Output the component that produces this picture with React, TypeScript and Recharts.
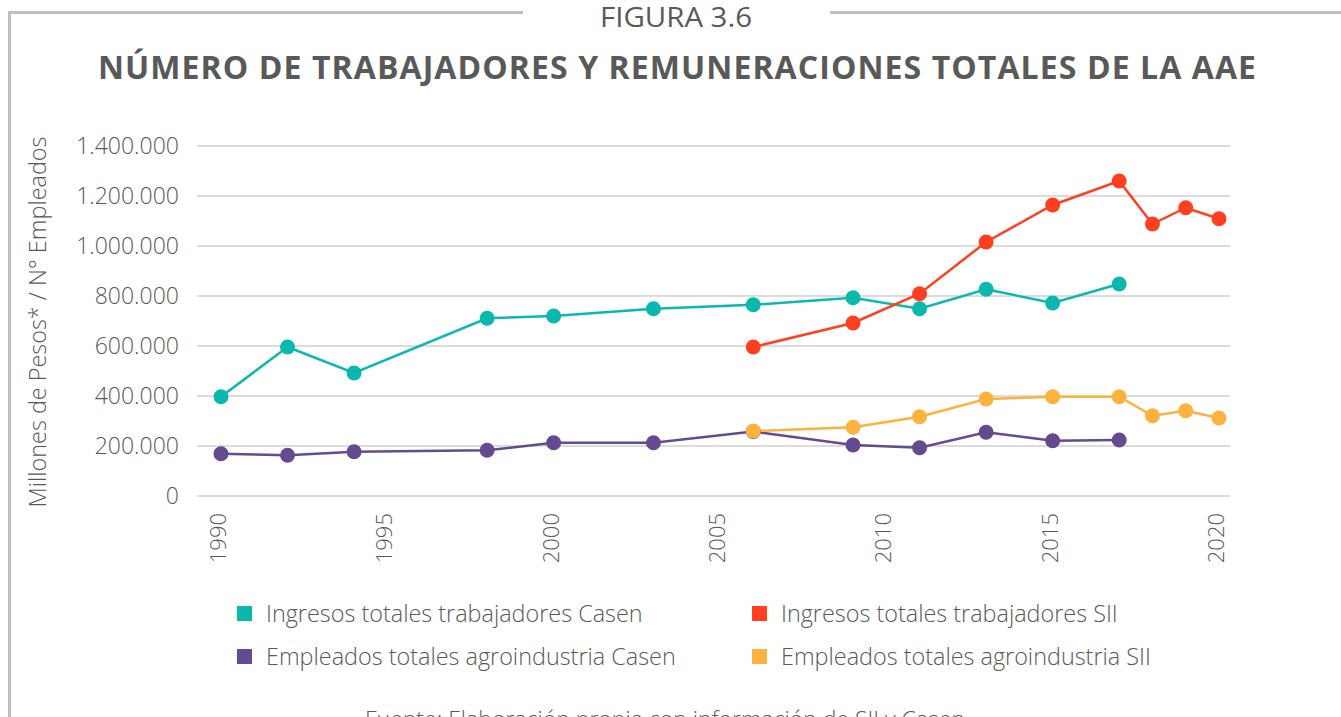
import React from "react";
import { LineChart, Line, XAxis, YAxis, CartesianGrid, Legend } from "recharts";

const yearsCasen = [1990, 1992, 1994, 1998, 2000, 2003, 2006, 2009, 2011, 2013, 2015, 2017];
const ingresosCasen = [397000, 596000, 492000, 711000, 720000, 749000, 765000, 793000, 749000, 827000, 772000, 848000];
const empleadosCasen = [169000, 163000, 177000, 183000, 213000, 213000, 258000, 204000, 193000, 255000, 221000, 224000];

const yearsSII = [2006, 2009, 2011, 2013, 2015, 2017, 2018, 2019, 2020];
const ingresosSII = [596000, 692000, 809000, 1016000, 1164000, 1260000, 1088000, 1153000, 1109000];
const empleadosSII = [260000, 275000, 317000, 388000, 397000, 397000, 321000, 341000, 312000];

const xTicks = [1990, 1995, 2000, 2005, 2010, 2015, 2020];
const yTicks = [0, 200000, 400000, 600000, 800000, 1000000, 1200000, 1400000];

const casenData = yearsCasen.map((year, i) => ({ year, ingresos: ingresosCasen[i], empleados: empleadosCasen[i] }));
const siiData = yearsSII.map((year, i) => ({ year, ingresos: ingresosSII[i], empleados: empleadosSII[i] }));

const SERIES = [
  { key: "ingresos", data: casenData, name: "Ingresos totales trabajadores Casen", color: "#0BB8AD" },
  { key: "ingresos", data: siiData, name: "Ingresos totales trabajadores SII", color: "#FF4020" },
  { key: "empleados", data: casenData, name: "Empleados totales agroindustria Casen", color: "#654A8F" },
  { key: "empleados", data: siiData, name: "Empleados totales agroindustria SII", color: "#FCB33D" },
];

const FONT = "'Open Sans', sans-serif";
const GRAY = "#595959";

const fmt = (v: number) => String(v).replace(/\B(?=(\d{3})+(?!\d))/g, ".");

const XTick = ({ x, y, payload }: any) => {
  const cx = x - 4;
  return (
    <text x={cx} y={y} transform={`rotate(-90, ${cx}, ${y})`} textAnchor="end" dominantBaseline="central"
      fill={GRAY} fontSize={22} fontFamily={FONT} fontWeight={300}>
      {payload.value}
    </text>
  );
};

// legend box is 0 high so it doesn't eat into the plot area
const renderLegend = () => (
  <div style={{ position: "relative", height: 0, fontFamily: FONT, fontWeight: 300 }}>
    {SERIES.map((s, i) => (
      <div key={s.name} style={{
        position: "absolute", left: i % 2 === 0 ? 237 : 752, top: Math.floor(i / 2) * 43,
        display: "flex", alignItems: "center", height: 34, whiteSpace: "nowrap",
      }}>
        <span style={{ width: 15, height: 15, background: s.color, marginRight: 14, display: "inline-block" }} />
        <span style={{ fontSize: 23.4, color: GRAY }}>{s.name}</span>
      </div>
    ))}
  </div>
);

export default function App() {
  return (
    <div style={{ position: "absolute", left: 0, top: 0, width: 1341, height: 717, background: "#fff", overflow: "hidden" }}>
      <LineChart width={1341} height={717} margin={{ top: 146, right: 111, bottom: 161, left: 97 }}>
        <CartesianGrid vertical={false} stroke="#D0D0D0" strokeWidth={1.5} />
        <XAxis type="number" dataKey="year" domain={[1989.279, 2020.331]} ticks={xTicks} allowDataOverflow
          height={60} axisLine={false} tickLine={false} tickSize={0} tickMargin={17} tick={<XTick />} interval={0} />
        <YAxis type="number" domain={[0, 1400000]} ticks={yTicks} width={100} axisLine={false} tickLine={false}
          tickSize={0} tickMargin={18} tickFormatter={fmt} interval={0}
          tick={{ fill: GRAY, fontSize: 23, fontFamily: FONT, fontWeight: 300 }} />
        {SERIES.map((s) => (
          <Line key={s.name} data={s.data} dataKey={s.key} name={s.name} type="linear" stroke={s.color}
            strokeWidth={2.5} dot={{ r: 7.5, fill: s.color, stroke: s.color, strokeWidth: 0 }}
            activeDot={false} isAnimationActive={false} />
        ))}
        <Legend content={renderLegend} wrapperStyle={{ left: 0, top: 596, width: 1341, height: 0 }} />
      </LineChart>
      <svg width={1341} height={717} style={{ position: "absolute", left: 0, top: 0, pointerEvents: "none" }}>
        <line x1={8} y1={12.5} x2={523} y2={12.5} stroke="#C0C0C0" strokeWidth={3} />
        <line x1={830} y1={12.5} x2={1341} y2={12.5} stroke="#C0C0C0" strokeWidth={3} />
        <line x1={9.5} y1={11} x2={9.5} y2={717} stroke="#C0C0C0" strokeWidth={3} />
        <text x={676} y={27} textAnchor="middle" fill={GRAY} fontSize={28} fontFamily={FONT} fontWeight={400}
          textLength={152} lengthAdjust="spacingAndGlyphs">FIGURA 3.6</text>
        <text x={677} y={79} textAnchor="middle" fill={GRAY} fontSize={32} fontFamily={FONT} fontWeight={700}
          textLength={1158} lengthAdjust="spacing">NÚMERO DE TRABAJADORES Y REMUNERACIONES TOTALES DE LA AAE</text>
        <text x={37} y={322} transform="rotate(-90, 37, 322)" textAnchor="middle" dominantBaseline="central"
          fill={GRAY} fontSize={23} fontFamily={FONT} fontWeight={300} textLength={371} lengthAdjust="spacingAndGlyphs">
          Millones de Pesos* / N° Empleados
        </text>
        <text x={365} y={728} fill={GRAY} fontSize={23} fontFamily={FONT} fontWeight={300}>
          Fuente: Elaboración propia con información de SII y Casen
        </text>
      </svg>
    </div>
  );
}
